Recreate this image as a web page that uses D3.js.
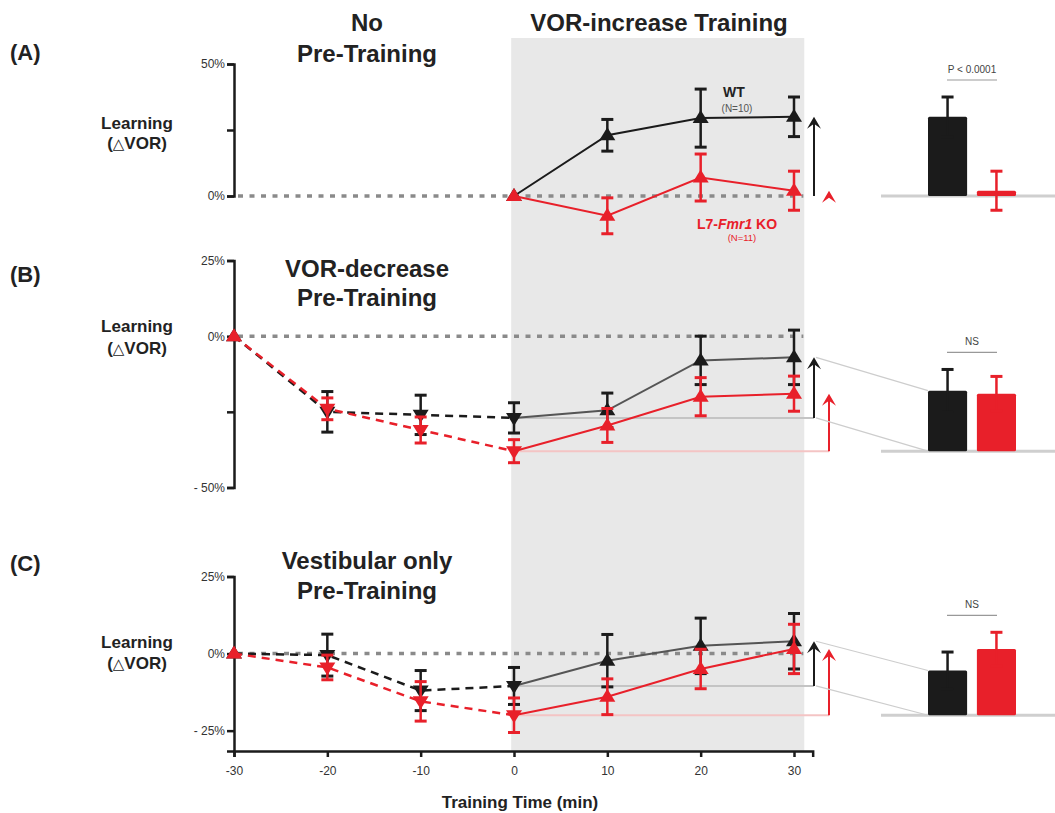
<!DOCTYPE html>
<html>
<head>
<meta charset="utf-8">
<script src="https://cdn.jsdelivr.net/npm/d3@7"></script>
<style>
body{margin:0;background:#fff}
svg{display:block;font-family:"Liberation Sans",Arial,Helvetica,sans-serif}
</style>
</head>
<body>
<svg id="fig" width="1055" height="813"></svg>
<script>
//////////////////////////////////////////
// donnees (% de changement du VOR)

var temps = [-30, -20, -10, 0, 10, 20, 30];
var tempsA = [0, 10, 20, 30];
var groupes = ["WT", "KO"];

// (A) pas de pre-entrainement
var wtA = [0, 23, 29.5, 30];
var wtA_err = [0, 6, 11, 7.5];
var koA = [0, -7.5, 7, 2];
var koA_err = [0, 6.8, 8.9, 7.4];
var barresA = [30, 2];
var barresA_err = [7.5, 7.4];

// (B) pre-entrainement VOR-decrease
var wtB = [0, -25, -26, -27, -24.5, -8, -7];
var wtB_err = [0, 6.7, 6.5, 5, 5.7, 8, 9];
var koB = [0, -24, -31, -38, -29.5, -20, -19];
var koB_err = [0, 3.6, 4.3, 3.8, 5.6, 6.3, 5.8];
var barresB = [20, 19];
var barresB_err = [7, 5.7];

// (C) pre-entrainement vestibulaire seul
var wtC = [0, -0.5, -12, -10.5, -2.3, 2.5, 4];
var wtC_err = [0, 6.8, 6.5, 6, 8.5, 9, 9];
var koC = [0, -4.5, -15.5, -20, -14, -5, 1.5];
var koC_err = [0, 4, 6.4, 5.6, 5.8, 6.4, 8];
var barresC = [14.5, 21.5];
var barresC_err = [6, 5.4];

var tickLabels = {"50": "50%", "25": "25%", "0": "0%", "-25": "- 25%", "-50": "- 50%"};
var sigA = "P < 0.0001", sigB = "NS", sigC = "NS";

//////////////////////////////////////////

var rouge = "#e8202a", noir = "#1b1b1b";
var svg = d3.select("#fig");

var x = d3.scaleLinear().domain([-30, 30]).range([234, 794]);
var xBar = d3.scaleBand().domain(groupes).range([928, 1016]).paddingInner(0.2);

var panels = [
    {lettre: "(A)", lettreY: 60, titre: ["No", "Pre-Training"], titreY: [31, 62],
     labelY: [129, 149], dom: [0, 50], range: [196, 64], ticks: [50, 25, 0], lab: [50, 0],
     t: tempsA, wt: wtA, wtErr: wtA_err, ko: koA, koErr: koA_err,
     bars: barresA, barsErr: barresA_err, sig: sigA, wtTrain: noir, liens: false},
    {lettre: "(B)", lettreY: 282, titre: ["VOR-decrease", "Pre-Training"], titreY: [277, 306],
     labelY: [332, 354], dom: [-50, 25], range: [487.5, 260.5], ticks: [25, 0, -25, -50], lab: [25, 0, -50],
     t: temps, wt: wtB, wtErr: wtB_err, ko: koB, koErr: koB_err,
     bars: barresB, barsErr: barresB_err, sig: sigB, wtTrain: "#555", liens: true},
    {lettre: "(C)", lettreY: 571, titre: ["Vestibular only", "Pre-Training"], titreY: [569, 599],
     labelY: [648, 669], dom: [-31.6, 25], range: [751, 576.5], ticks: [25, 0, -25], lab: [25, 0, -25],
     t: temps, wt: wtC, wtErr: wtC_err, ko: koC, koErr: koC_err,
     bars: barresC, barsErr: barresC_err, sig: sigC, wtTrain: "#555", liens: true}
];

// zone grise de l'entrainement
svg.append("rect")
    .attr("x", x(-0.3)).attr("y", 38)
    .attr("width", x(31.1) - x(-0.3)).attr("height", 751 - 38)
    .attr("fill", "#e8e8e8");

svg.append("text")
    .attr("x", 659).attr("y", 31)
    .attr("text-anchor", "middle")
    .attr("font-size", 24).attr("font-weight", "bold").attr("fill", "#222")
    .text("VOR-increase Training");

function triangle(cx, cy, bas){
    if (bas) return "M" + (cx - 8) + "," + (cy - 5) + "L" + (cx + 8) + "," + (cy - 5) + "L" + cx + "," + (cy + 8) + "Z";
    return "M" + (cx - 8) + "," + (cy + 5) + "L" + (cx + 8) + "," + (cy + 5) + "L" + cx + "," + (cy - 8) + "Z";
}

function fleche(g, xa, y0, y1, couleur){
    g.append("line")
        .attr("x1", xa).attr("x2", xa).attr("y1", y0).attr("y2", y1 + 6)
        .attr("stroke", couleur).attr("stroke-width", 2);
    g.append("path")
        .attr("d", "M" + xa + "," + y1 + "L" + (xa - 7) + "," + (y1 + 12) + "L" + xa + "," + (y1 + 7) + "L" + (xa + 7) + "," + (y1 + 12) + "Z")
        .attr("fill", couleur);
}

function drawSerie(g, p, y, vals, errs, couleur, trainCouleur){
    let pts = p.t.map((t, i) => ({t: t, v: vals[i], e: errs[i]}));
    let line = d3.line().x(d => x(d.t)).y(d => y(d.v));
    let pre = pts.filter(d => d.t <= 0);
    let train = pts.filter(d => d.t >= 0);
    if (pre.length > 1) {
        g.append("path").attr("d", line(pre))
            .attr("fill", "none").attr("stroke", couleur)
            .attr("stroke-width", 2.5).attr("stroke-dasharray", "8,6");
    }
    g.append("path").attr("d", line(train))
        .attr("fill", "none").attr("stroke", trainCouleur).attr("stroke-width", 2);

    let eb = pts.filter(d => d.e > 0);
    g.selectAll(null).data(eb).enter().append("line")
        .attr("x1", d => x(d.t)).attr("x2", d => x(d.t))
        .attr("y1", d => y(d.v + d.e)).attr("y2", d => y(d.v - d.e))
        .attr("stroke", couleur).attr("stroke-width", 2.5);
    [1, -1].forEach(s => {
        g.selectAll(null).data(eb).enter().append("line")
            .attr("x1", d => x(d.t) - 6).attr("x2", d => x(d.t) + 6)
            .attr("y1", d => y(d.v + s * d.e)).attr("y2", d => y(d.v + s * d.e))
            .attr("stroke", couleur).attr("stroke-width", 3);
    });
    let avecPre = p.t[0] < 0;
    g.selectAll(null).data(pts).enter().append("path")
        .attr("d", d => triangle(x(d.t), y(d.v), avecPre && d.t > -30 && d.t <= 0))
        .attr("fill", couleur);
}

function drawPanel(p){
    let g = svg.append("g");
    let y = d3.scaleLinear().domain(p.dom).range(p.range);
    let n = p.t.length;
    let wt0 = p.wt[p.t.indexOf(0)], wt30 = p.wt[n - 1];
    let ko0 = p.ko[p.t.indexOf(0)], ko30 = p.ko[n - 1];
    let xNoir = x(30) + 20, xRouge = x(30) + 35;

    // textes
    g.append("text").attr("x", 10).attr("y", p.lettreY)
        .attr("font-size", 22).attr("font-weight", "bold").attr("fill", "#222").text(p.lettre);
    p.titre.forEach((s, i) => {
        g.append("text").attr("x", 367).attr("y", p.titreY[i])
            .attr("text-anchor", "middle").attr("font-size", 24)
            .attr("font-weight", "bold").attr("fill", "#222").text(s);
    });
    g.append("text").attr("x", 137).attr("y", p.labelY[0])
        .attr("text-anchor", "middle").attr("font-size", 17)
        .attr("font-weight", "bold").attr("fill", "#222").text("Learning");
    let t2 = g.append("text").attr("x", 137).attr("y", p.labelY[1])
        .attr("text-anchor", "middle").attr("font-size", 17)
        .attr("font-weight", "bold").attr("fill", "#222");
    t2.append("tspan").text("(");
    t2.append("tspan").attr("font-weight", "normal").attr("font-family", "DejaVu Sans").attr("font-size", 15).text("\u25B3");
    t2.append("tspan").text("VOR)");

    // axe y
    let ay = g.append("g").attr("transform", "translate(234,0)")
        .call(d3.axisLeft(y).tickValues(p.ticks).tickSizeOuter(0).tickSize(7).tickPadding(2)
            .tickFormat(d => p.lab.indexOf(d) >= 0 ? tickLabels[d] : ""));
    ay.select(".domain").attr("stroke", noir).attr("stroke-width", 2.5);
    ay.selectAll(".tick line").attr("stroke", noir).attr("stroke-width", 2.5);
    ay.selectAll(".tick text").attr("font-size", 12).attr("fill", "#333")
        .attr("font-family", "'Liberation Sans',Arial,sans-serif");

    // ligne du zero
    g.append("line")
        .attr("x1", 238).attr("x2", x(31)).attr("y1", y(0)).attr("y2", y(0))
        .attr("stroke", "#8a8a8a").attr("stroke-width", 3.5).attr("stroke-dasharray", "5,6.5");

    // niveaux de depart
    if (p.liens) {
        g.append("line").attr("x1", x(0)).attr("x2", xRouge).attr("y1", y(ko0)).attr("y2", y(ko0))
            .attr("stroke", "#f4c4c4").attr("stroke-width", 2);
        g.append("line").attr("x1", x(0)).attr("x2", xNoir).attr("y1", y(wt0)).attr("y2", y(wt0))
            .attr("stroke", "#c4c4c4").attr("stroke-width", 2);
    }

    drawSerie(g, p, y, p.wt, p.wtErr, noir, p.wtTrain);
    drawSerie(g, p, y, p.ko, p.koErr, rouge, rouge);

    fleche(g, xNoir, y(wt0), y(wt30), noir);
    fleche(g, xRouge, y(ko0), y(ko30), rouge);

    // barres
    let base = y(Math.min(wt0, ko0));
    let h = v => y(0) - y(v);
    g.append("line").attr("x1", 881).attr("x2", 1055).attr("y1", base).attr("y2", base)
        .attr("stroke", "#cfcfcf").attr("stroke-width", 3);
    if (p.liens) {
        g.append("line").attr("x1", xNoir + 2).attr("y1", y(wt30))
            .attr("x2", xBar("WT")).attr("y2", base - h(p.bars[0]))
            .attr("stroke", "#cdcdcd").attr("stroke-width", 1.2);
        g.append("line").attr("x1", xNoir + 2).attr("y1", y(wt0))
            .attr("x2", xBar("WT")).attr("y2", base)
            .attr("stroke", "#cdcdcd").attr("stroke-width", 1.2);
    }
    let bd = groupes.map((k, i) => ({k: k, v: p.bars[i], e: p.barsErr[i], c: i === 0 ? noir : rouge}));
    g.selectAll(null).data(bd).enter().append("rect")
        .attr("x", d => xBar(d.k)).attr("width", xBar.bandwidth())
        .attr("y", d => base - h(d.v)).attr("height", d => Math.max(h(d.v), 0))
        .attr("rx", 1.5).attr("fill", d => d.c);
    let cx = d => xBar(d.k) + xBar.bandwidth() / 2;
    g.selectAll(null).data(bd).enter().append("line")
        .attr("x1", cx).attr("x2", cx)
        .attr("y1", d => base - h(d.v + d.e)).attr("y2", d => base - h(d.v - d.e))
        .attr("stroke", d => d.c).attr("stroke-width", 2.5);
    [1, -1].forEach(s => {
        g.selectAll(null).data(bd).enter().append("line")
            .attr("x1", d => cx(d) - 6).attr("x2", d => cx(d) + 6)
            .attr("y1", d => base - h(d.v + s * d.e)).attr("y2", d => base - h(d.v + s * d.e))
            .attr("stroke", d => d.c).attr("stroke-width", 3);
    });
    let haut = d3.min(bd, d => base - h(d.v + d.e)) - 17;
    let milieu = (xBar("WT") + xBar("KO") + xBar.bandwidth()) / 2;
    g.append("line").attr("x1", milieu - 25).attr("x2", milieu + 25).attr("y1", haut).attr("y2", haut)
        .attr("stroke", "#999").attr("stroke-width", 1.2);
    g.append("text").attr("x", milieu).attr("y", haut - 7)
        .attr("text-anchor", "middle").attr("font-size", 10).attr("fill", "#444").text(p.sig);
}

panels.forEach(drawPanel);

// legende
svg.append("text").attr("x", 734).attr("y", 97).attr("text-anchor", "middle")
    .attr("font-size", 14).attr("font-weight", "bold").attr("fill", "#222").text("WT");
svg.append("text").attr("x", 737).attr("y", 112).attr("text-anchor", "middle")
    .attr("font-size", 10).attr("fill", "#555").text("(N=10)");
let lk = svg.append("text").attr("x", 737).attr("y", 229).attr("text-anchor", "middle")
    .attr("font-size", 14).attr("font-weight", "bold").attr("fill", rouge);
lk.append("tspan").text("L7-");
lk.append("tspan").attr("font-style", "italic").text("Fmr1");
lk.append("tspan").text(" KO");
svg.append("text").attr("x", 742).attr("y", 241).attr("text-anchor", "middle")
    .attr("font-size", 9.5).attr("fill", rouge).text("(N=11)");

// axe x
let xAxe = x.copy().domain([-30, 32]).range([234, x(32)]);
let ax = svg.append("g").attr("transform", "translate(0,751)")
    .call(d3.axisBottom(xAxe).tickValues(temps).tickSizeOuter(0).tickSize(6).tickPadding(9)
        .tickFormat(d => String(d)));
ax.select(".domain").attr("stroke", noir).attr("stroke-width", 2.5);
ax.selectAll(".tick line").attr("stroke", noir).attr("stroke-width", 2.5);
ax.selectAll(".tick text").attr("font-size", 12).attr("fill", "#333")
    .attr("font-family", "'Liberation Sans',Arial,sans-serif");

svg.append("text").attr("x", 520).attr("y", 808).attr("text-anchor", "middle")
    .attr("font-size", 17).attr("font-weight", "bold").attr("fill", "#222")
    .text("Training Time (min)");
</script>
</body>
</html>
